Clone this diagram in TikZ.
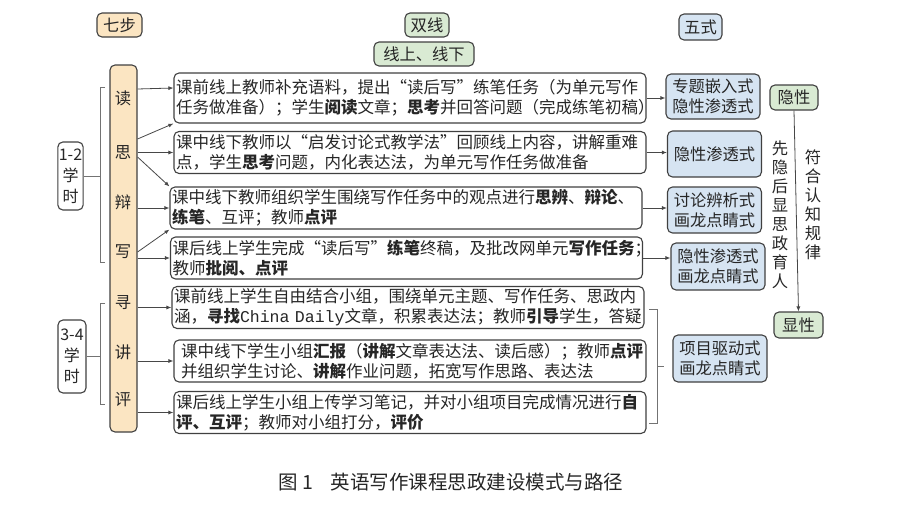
\documentclass[tikz,border=0pt]{standalone}
\usepackage{fontspec}
\setmainfont{Noto Sans CJK SC}
\newfontfamily\latinmono{Liberation Mono}
\usetikzlibrary{arrows.meta,calc}

\definecolor{stepfill}{RGB}{251,229,194}
\definecolor{linefill}{RGB}{217,234,211}
\definecolor{modefill}{RGB}{214,228,242}
\newcommand{\edgecol}{black!75}
\newcommand{\arrcol}{black!72}

\tikzset{
  box/.style={draw=\edgecol, line width=1.1pt, rounded corners=5pt, inner sep=1pt,
    text=black!85, font=\fontsize{16.3}{20}\selectfont},
  stepbox/.style={box, fill=stepfill},
  linebox/.style={box, fill=linefill},
  modebox/.style={box, fill=modefill, align=center, minimum width=94pt, minimum height=46pt},
  taskbox/.style={box, fill=white, align=left, inner xsep=2pt, text width=468pt, minimum height=42pt,
    font=\fontsize{16.5}{20}\selectfont},
  hourbox/.style={box, fill=white, align=center, font=\fontsize{16}{21}\selectfont},
  arr/.style={draw=\arrcol, line width=0.8pt, -{Latex[length=5pt,width=4pt]}},
  brk/.style={draw=black!55, line width=0.7pt},
}

\begin{document}
\begin{tikzpicture}[x=1pt, y=-1pt]
    \useasboundingbox (0,0) rectangle (900,506);

    % en-tetes
    \node[stepbox, minimum width=45pt, minimum height=24pt] (head1) at (119.5,25) {七步};
    \node[linebox, minimum width=44pt, minimum height=24pt] (head2) at (427,25) {双线};
    \node[linebox, minimum width=100pt, minimum height=24pt] (head3) at (424,54) {线上、线下};
    \node[box, fill=modefill, minimum width=43pt, minimum height=26pt] (head4) at (700.5,27) {五式};

    % sept etapes
    \node[stepbox, minimum width=27pt, minimum height=367pt] (col) at (123.5,248.5) {};
    \node[text=black!85, font=\fontsize{16.3}{20}\selectfont] (s1) at (123,98) {读};
    \node[text=black!85, font=\fontsize{16.3}{20}\selectfont] (s2) at (123,152) {思};
    \node[text=black!85, font=\fontsize{16.3}{20}\selectfont] (s3) at (123,202) {辩};
    \node[text=black!85, font=\fontsize{16.3}{20}\selectfont] (s4) at (123,252) {写};
    \node[text=black!85, font=\fontsize{16.3}{20}\selectfont] (s5) at (123,303) {寻};
    \node[text=black!85, font=\fontsize{16.3}{20}\selectfont] (s6) at (123,352) {讲};
    \node[text=black!85, font=\fontsize{16.3}{20}\selectfont] (s7) at (123,400) {评};

    \node[hourbox, minimum width=25pt, minimum height=68pt] (h1) at (70.5,176) {1-2\\学\\时};
    \node[hourbox, minimum width=28pt, minimum height=73pt] (h2) at (72,356.5) {3-4\\学\\时};

    \draw[brk] (105,87) -| (100,262) -- (105,262);
    \draw[brk] (h1.east) -- ++(17,0);
    \draw[brk] (105,303) -| (100,404) -- (105,404);
    \draw[brk] (h2.east) -- ++(14,0);

    % taches
    \node[taskbox, minimum height=50pt] (b1) at (410,98)
      {课前线上教师补充语料，提出“读后写”练笔任务（为单元写作\\任务做准备）；学生\textbf{阅读}文章；\textbf{思考}并回答问题（完成练笔初稿）};
    \node[taskbox] (b2) at (410,152.5)
      {课中线下教师以“启发讨论式教学法”回顾线上内容，讲解重难\\点，学生\textbf{思考}问题，内化表达法，为单元写作任务做准备};
    \node[taskbox] (b3) at (406,208)
      {课中线下教师组织学生围绕写作任务中的观点进行\textbf{思辨}、\textbf{辩论}、\\\textbf{练笔}、互评；教师\textbf{点评}};
    \node[taskbox] (b4) at (406.5,258)
      {课后线上学生完成“读后写”\textbf{练笔}终稿，及批改网单元\textbf{写作任务}；\\教师\textbf{批阅、点评}};
    \node[taskbox] (b5) at (408,307.5)
      {课前线上学生自由结合小组，围绕单元主题、写作任务、思政内\\涵，\textbf{寻找}{\latinmono China Daily}文章，积累表达法；教师\textbf{引导}学生，答疑};
    \node[taskbox] (b6) at (410,361)
      {\hspace{5pt}课中线下学生小组\textbf{汇报}（\textbf{讲解}文章表达法、读后感）；教师\textbf{点评}\\\hspace{5pt}并组织学生讨论、\textbf{讲解}作业问题，拓宽写作思路、表达法};
    \node[taskbox] (b7) at (410,412.5)
      {课后线上学生小组上传学习笔记，并对小组项目完成情况进行\textbf{自}\\\textbf{评、互评}；教师对小组打分，\textbf{评价}};

    \draw[arr] ($(s1 -| col.east)+(0,-9)$) -- ($(b1.west)+(0,-10)$);
    \draw[arr] ($(s2 -| col.east)+(0,-13)$) -- (b1.south west);
    \draw[arr] (col.east |- b2.west) -- (b2.west);
    \draw[arr] ($(s2 -| col.east)+(0,5)$) -- (b3.north west);
    \draw[arr] (col.east |- b3.west) -- (b3.west);
    \draw[arr] (s4 -| col.east) -- (b3.south west);
    \draw[arr] (col.east |- b4.west) -- (b4.west);
    \draw[arr] (col.east |- b5.west) -- (b5.west);
    \draw[arr] (col.east |- b6.west) -- (b6.west);
    \draw[arr] (col.east |- b7.west) -- (b7.west);

    % cinq formes
    \node[modebox, minimum height=45pt] (m1) at (713,96.5) {专题嵌入式\\隐性渗透式};
    \node[modebox] (m2) at (714.5,154) {隐性渗透式};
    \node[modebox] (m3) at (714.5,210) {讨论辨析式\\画龙点睛式};
    \node[modebox, minimum height=47pt] (m4) at (718,266.5) {隐性渗透式\\画龙点睛式};
    \node[modebox, minimum height=47pt] (m5) at (720,358.5) {项目驱动式\\画龙点睛式};

    \draw[arr] (b1.east) -- (b1.east -| m1.west);
    \draw[arr] (b2.east) -- (b2.east -| m2.west);
    \draw[arr] (b3.east) -- (b3.east -| m3.west);
    \draw[arr] (b4.east) -- (b4.east -| m4.west);

    \draw[brk] (649,309) -| (657,423) -- (649,423);
    \draw[brk] (657,366) -- (664,366);

    % implicite vers explicite
    \node[linebox, minimum width=48pt, minimum height=25pt] (y1) at (794,97.5) {隐性};
    \node[linebox, minimum width=49pt, minimum height=26pt] (y2) at (798.5,325) {显性};
    \draw[arr] (y1.south) -- (y2.north);

    \node[text=black!85, align=center, font=\fontsize{16.3}{19}\selectfont] (v1) at (780,214.5)
      {先\\隐\\后\\显\\思\\政\\育\\人};
    \node[text=black!85, align=center, font=\fontsize{16.3}{19}\selectfont] (v2) at (813,205)
      {符\\合\\认\\知\\规\\律};

    \node[text=black!85, font=\fontsize{19.5}{22}\selectfont] (cap) at (451,482)
      {图 1\hspace{0.9em}英语写作课程思政建设模式与路径};

\end{tikzpicture}
\end{document}
